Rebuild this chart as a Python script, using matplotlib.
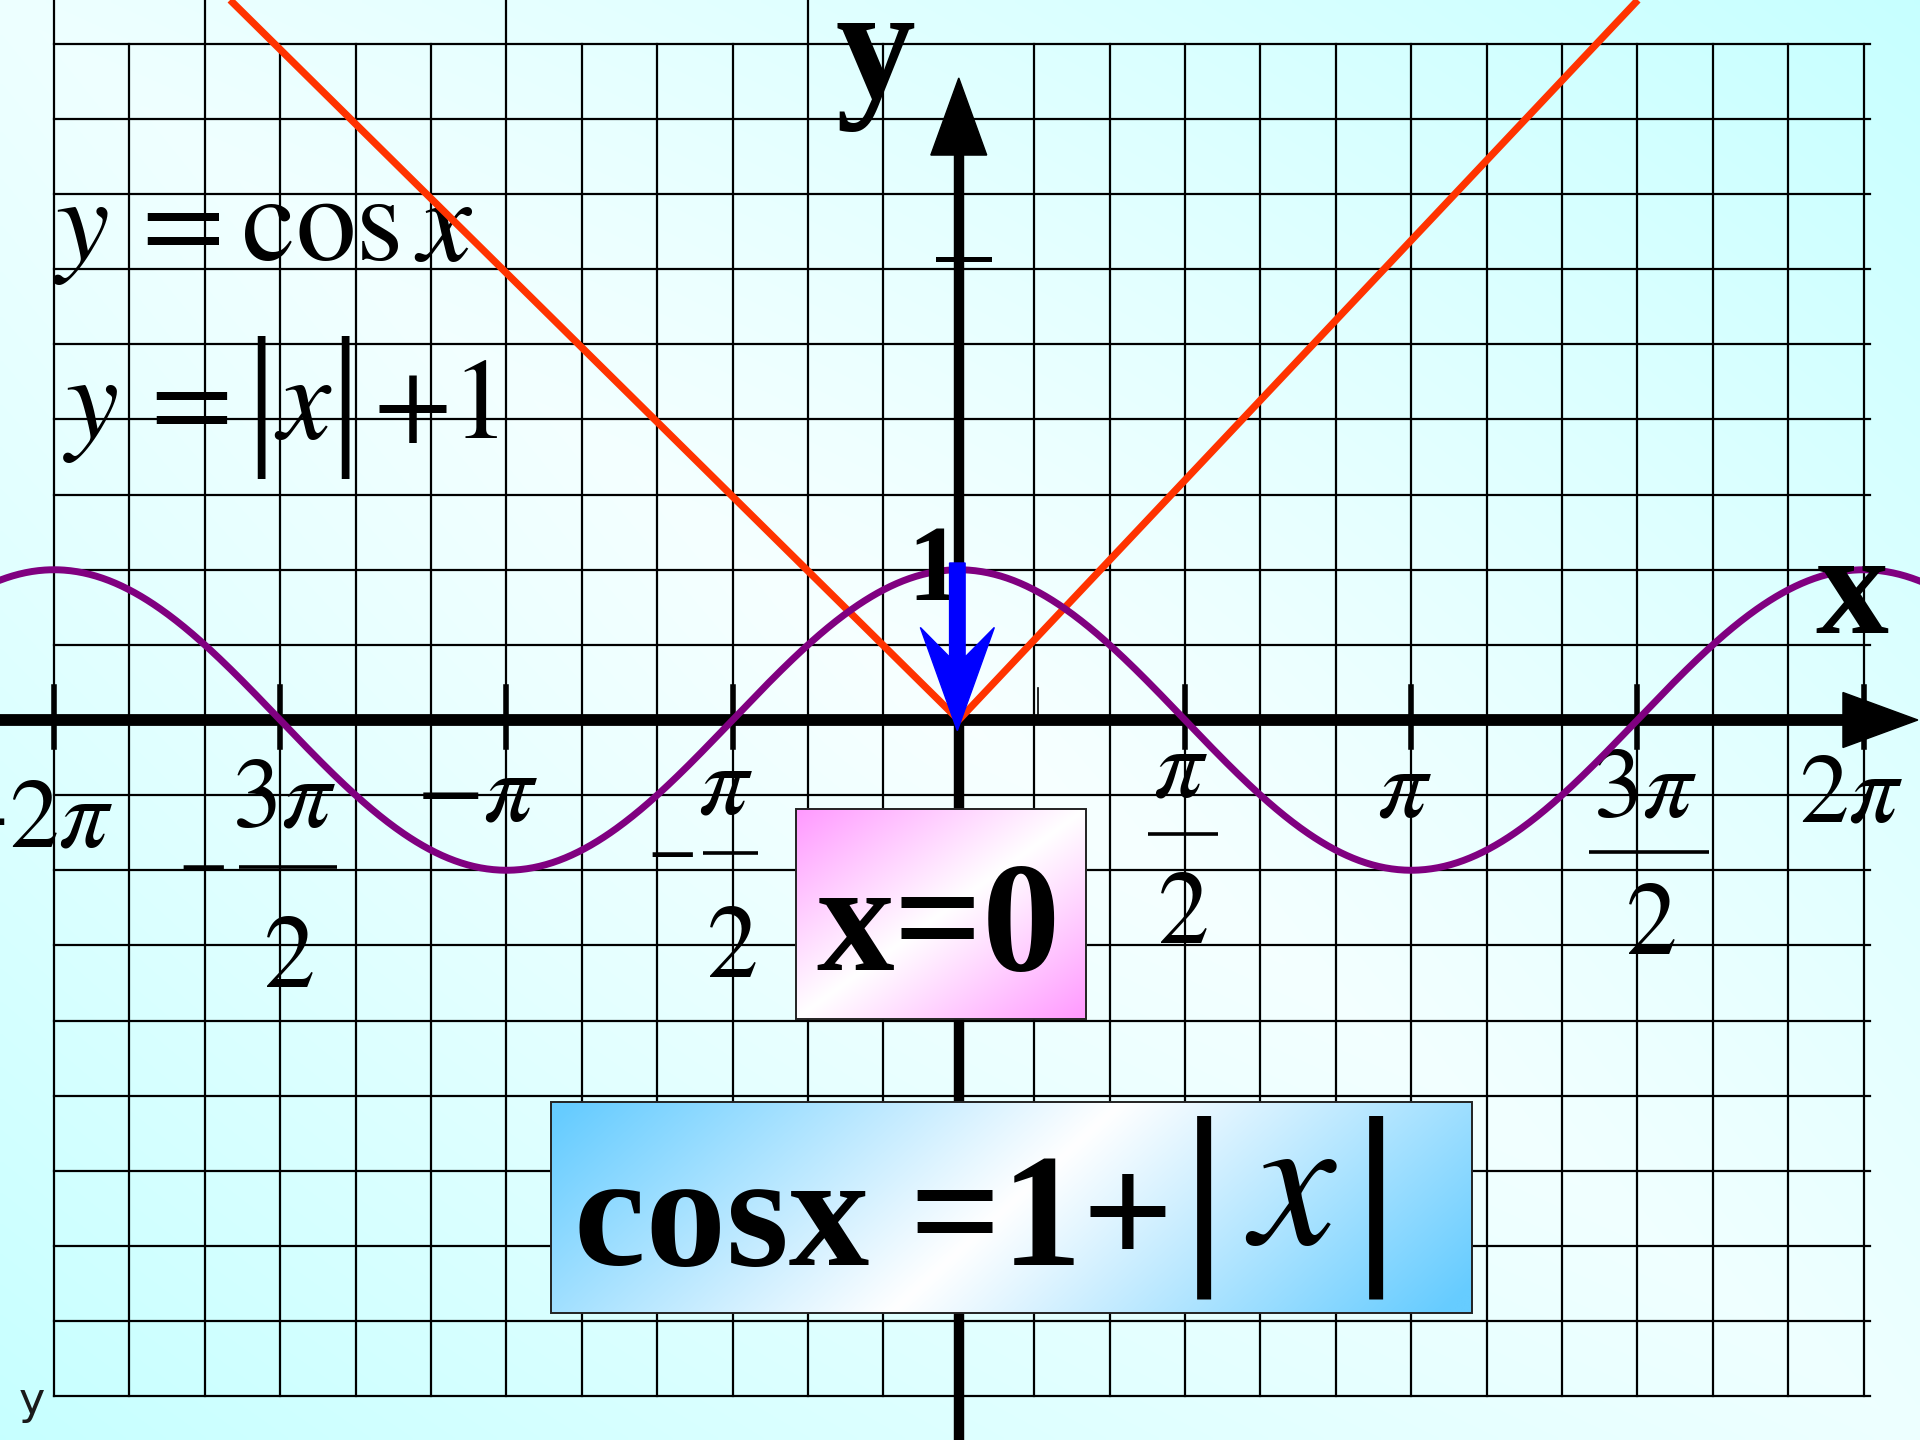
import numpy as np
import matplotlib
matplotlib.use("Agg")
import matplotlib.pyplot as plt
from matplotlib.patches import Polygon, Rectangle

plt.rcParams['mathtext.fontset'] = 'stix'
plt.rcParams['font.family'] = ['Liberation Serif', 'DejaVu Serif']

# --- chart values ------------------------------------------------------
x_lo, x_hi = -6.658, 6.675
y_lo, y_hi = -4.792, 4.792

tick_vals = np.array([-4, -3, -2, -1, 1, 2, 3, 4]) * np.pi / 2
tick_num = [r'$-2\pi$', r'$3\pi$', r'$-\pi$', r'$\pi$', r'$\pi$', r'$\pi$', r'$3\pi$', r'$2\pi$']
tick_den = ['', '2', '', '2', '2', '', '2', '']
tick_neg = [False, True, False, True, False, False, False, False]

# y = |x| + 1 as drawn (vertex lies on the x axis)
v_x = [-5.06, 0.0, 4.716]
v_y = [4.792, 0.0, 4.792]

# blue shift arrow, from y=1 down to the origin
shift_x = -0.01
shift_from, shift_to = 1.045, -0.071

grid_cols = np.arange(-12, 13)
grid_rows = np.arange(-9, 10)
cols_to_top = [-12, -10, -6, -2]

# --- layout of the hand-set labels (data units) ----------------------
num_pos = [(-5.87, -0.84), (-4.683, -0.71), (-3.342, -0.666), (-1.617, -0.62),
           (1.536, -0.51), (3.098, -0.645), (4.769, -0.645), (6.199, -0.676)]
num_ha = ['right'] + ['center'] * 7
den_pos = [None, (-4.658, -1.775), None, (-1.582, -1.709),
           (1.55, -1.483), None, (4.804, -1.56), None]
bar_pos = [None, (-5.0, -4.32, -0.976), None, (-1.777, -1.395, -0.887),
           (1.314, 1.80, -0.758), None, (4.377, 5.21, -0.876), None]
minus_pos = [None, (-5.26, -0.976), None, (-2.005, -0.887), None, None, None, None]

fig = plt.figure(figsize=(19.2, 14.4), dpi=100)
ax = fig.add_axes([0, 0, 1, 1])


def gradient(n_u, n_v, weight, c_lo, c_hi):
    u = np.linspace(0, 1, n_u)[None, :]
    v = np.linspace(0, 1, n_v)[:, None]
    w = np.clip(weight(u, v), 0, 1)[..., None]
    return np.array(c_lo) * (1 - w) + np.array(c_hi) * w


# background: pale in the middle, cyan towards top-right / bottom-left
bg = gradient(400, 300,
              lambda u, v: 0.8 * np.abs(u - v) + 0.2 * np.sqrt(((u - .5) ** 2 + (v - .5) ** 2) * 2),
              (0.97, 1.0, 1.0), (0.78, 1.0, 1.0))
ax.imshow(bg, extent=(x_lo, x_hi, y_lo, y_hi), origin='upper', aspect='auto',
          interpolation='bilinear', zorder=0)

# grid
step = np.pi / 6
for k in grid_cols:
    if k == 0:
        continue
    top = y_hi if k in cols_to_top else 4.5
    ax.plot([k * step] * 2, [-4.5, top], color='black', lw=1.6, zorder=1)
for k in grid_rows:
    if k == 0:
        continue
    ax.plot([-2 * np.pi, 6.33], [k * 0.5] * 2, color='black', lw=1.6, zorder=1)

# axes with arrow heads
ax.plot([x_lo, 6.2], [0, 0], color='black', lw=8.5, solid_capstyle='butt', zorder=2)
ax.add_patch(Polygon([(6.14, 0.183), (6.66, 0), (6.14, -0.183)], closed=True,
                     color='black', zorder=2))
ax.plot([0, 0], [y_lo, 3.8], color='black', lw=7.5, solid_capstyle='butt', zorder=2)
ax.add_patch(Polygon([(-0.194, 3.76), (0, 4.273), (0.194, 3.76)], closed=True,
                     color='black', zorder=2))
ax.plot([-0.145, 0.21], [3.07, 3.07], color='black', lw=3.6, zorder=2)

# x ticks
for t in tick_vals:
    ax.plot([t, t], [-0.18, 0.22], color='black', lw=4, zorder=2)
ax.plot([0.548, 0.548], [0, 0.21], color='black', lw=1.2, zorder=2)

# tick labels
for i, t in enumerate(tick_vals):
    nx, ny = num_pos[i]
    ax.text(nx, ny, tick_num[i], fontsize=71, ha=num_ha[i], va='baseline', zorder=2.5)
    if tick_den[i]:
        dx, dy = den_pos[i]
        ax.text(dx, dy, '$' + tick_den[i] + '$', fontsize=74, ha='center', va='baseline', zorder=2.5)
        b0, b1, by = bar_pos[i]
        ax.plot([b0, b1], [by, by], color='black', lw=2.6, solid_capstyle='butt', zorder=2.5)
    if tick_neg[i]:
        mx, my = minus_pos[i]
        ax.text(mx, my, r'$-$', fontsize=52, ha='center', va='center', zorder=2.5)

# curves
ax.plot(v_x, v_y, color='#FF3300', lw=5.2, solid_capstyle='butt', zorder=3)
xs = np.linspace(x_lo, x_hi, 1200)
ax.plot(xs, np.cos(xs), color='#800080', lw=5.0, zorder=4)

# axis names and the "1"
ax.text(-0.578, 4.14, 'y', fontsize=115, fontweight='bold', ha='center', va='baseline', zorder=6)
ax.text(6.2, 0.579, 'x', fontsize=105, fontweight='bold', ha='center', va='baseline', zorder=6)
ax.text(-0.17, 0.80, '1', fontsize=78, fontweight='bold', ha='center', va='baseline', zorder=6)

# formulas at top-left
ax.text(-6.29, 3.064, r'$y\,= \cos x$', fontsize=87, ha='left', va='baseline', zorder=2.5)
ax.text(-6.22, 1.877, r'$y\,=$', fontsize=86, ha='left', va='baseline', zorder=2.5)
ax.text(-4.845, 2.08, '|', fontsize=112, ha='center', va='center', zorder=2.5)
ax.text(-4.55, 1.877, r'$x$', fontsize=86, ha='center', va='baseline', zorder=2.5)
ax.text(-4.263, 2.08, '|', fontsize=112, ha='center', va='center', zorder=2.5)
ax.text(-4.07, 1.877, r'$+1$', fontsize=82, ha='left', va='baseline', zorder=2.5)

# pink box "x=0"
px0, px1, py0, py1 = -1.131, 0.884, -1.992, -0.592
pink = gradient(200, 150, lambda u, v: np.abs(u + v - 1), (1, 1, 1), (1.0, 0.6, 1.0))
ax.imshow(pink, extent=(px0, px1, py0, py1), origin='upper', aspect='auto',
          interpolation='bilinear', zorder=5)
ax.add_patch(Rectangle((px0, py0), px1 - px0, py1 - py0, fill=False,
                       edgecolor='#222222', lw=1.4, zorder=5.1))
ax.text(-0.14, -1.665, 'x=0', fontsize=112, fontweight='bold', ha='center', va='baseline', zorder=6)

# blue box "cosx = 1 + |x|"
bx0, bx1, by0, by1 = -2.832, 3.563, -3.945, -2.543
blue = gradient(400, 120, lambda u, v: np.abs(u + 0.25 * v - 0.62) / 0.6,
                (1, 1, 1), (0.4, 0.8, 1.0))
ax.imshow(blue, extent=(bx0, bx1, by0, by1), origin='upper', aspect='auto',
          interpolation='bilinear', zorder=5)
ax.add_patch(Rectangle((bx0, by0), bx1 - bx0, by1 - by0, fill=False,
                       edgecolor='#222222', lw=1.4, zorder=5.1))
ax.text(-2.67, -3.627, 'cosx =1+', fontsize=116, fontweight='bold', ha='left', va='baseline', zorder=6)
ax.text(1.70, -3.24, '|', fontsize=145, fontweight='bold', ha='center', va='center', zorder=6)
ax.text(2.31, -3.49, r'$x$', fontsize=138, ha='center', va='baseline', zorder=6)
ax.text(2.896, -3.24, '|', fontsize=145, fontweight='bold', ha='center', va='center', zorder=6)

# blue arrow showing the shift down by one
hw, head, notch, shaft = 0.257, 0.687, 0.49, 0.054
arrow = [(shift_x - shaft, shift_from), (shift_x + shaft, shift_from),
         (shift_x + shaft, shift_to + notch), (shift_x + hw, shift_to + head),
         (shift_x, shift_to), (shift_x - hw, shift_to + head),
         (shift_x - shaft, shift_to + notch)]
ax.add_patch(Polygon(arrow, closed=True, color='#0000FF', zorder=7))

# small stray label at the bottom-left
ax.text(-6.53, -4.62, 'y', fontsize=32, family='DejaVu Sans', color='#1a1a1a',
        ha='left', va='baseline', zorder=6)

ax.set_xlim(x_lo, x_hi)
ax.set_ylim(y_lo, y_hi)
ax.axis('off')

fig.savefig('out.png', dpi=100)
